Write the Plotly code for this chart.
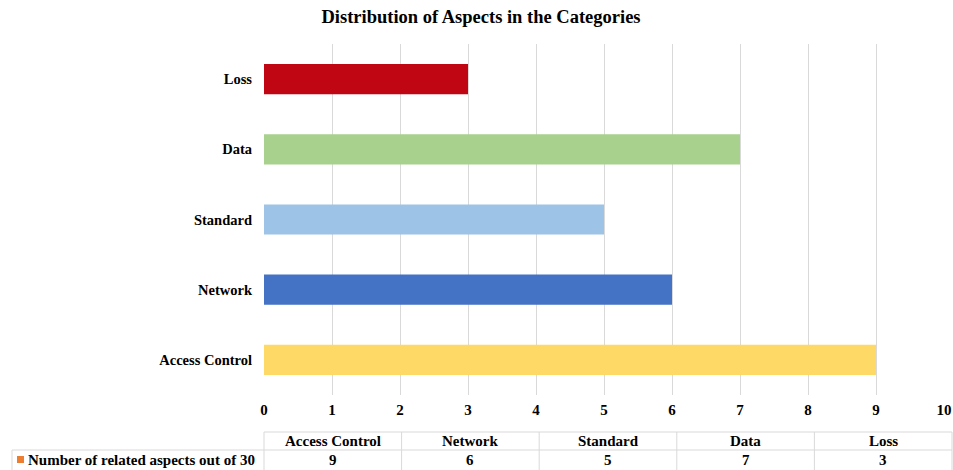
import plotly.graph_objects as go

categories = ["Access Control", "Network", "Standard", "Data", "Loss"]
values = [9, 6, 5, 7, 3]
colors = ["#FFD966", "#4472C4", "#9DC3E6", "#A9D18E", "#C00613"]
series_name = "Number of related aspects out of 30"
x_ticks = list(range(0, 11))

W, H = 953, 470
L, R, T, B = 264, 9, 44, 470 - 395
pw, ph = W - L - R, H - T - B

def px(x):
    return (x - L) / pw

def py(y):
    return (H - B - y) / ph

FONT = "Liberation Serif"

fig = go.Figure(go.Bar(
    y=categories, x=values, orientation="h",
    marker=dict(color=colors, line=dict(width=0)),
    width=0.43, hoverinfo="skip",
))

fig.update_layout(
    width=W, height=H,
    margin=dict(l=L, r=R, t=T, b=B, autoexpand=False),
    plot_bgcolor="white", paper_bgcolor="white",
    showlegend=False,
    font=dict(family=FONT, size=14, color="black"),
    title=dict(text="<b>Distribution of Aspects in the Categories</b>",
               x=481 / W, xanchor="center", y=1 - 17 / H, yanchor="middle",
               font=dict(family=FONT, size=18.5, color="black")),
    xaxis=dict(range=[0, 10], tickvals=x_ticks,
               ticktext=[f"<b>{v}</b>" for v in x_ticks],
               showgrid=True, gridcolor="#D9D9D9", gridwidth=1,
               zeroline=False, showline=False, ticks="",
               ticklabelstandoff=4, automargin=False,
               tickfont=dict(family=FONT, size=15)),
    yaxis=dict(categoryorder="array", categoryarray=categories,
               tickvals=categories, ticktext=[f"<b>{c}</b>" for c in categories],
               range=[-0.5, 4.5], showgrid=False, zeroline=False, showline=False,
               ticks="", ticklabelstandoff=11, automargin=False,
               tickfont=dict(family=FONT, size=14.5)),
)

# data table below the chart (pixel coordinates converted to paper)
line = dict(color="#D9D9D9", width=1)
x_plot_left = 264
x_left, x_right = 12, 952
y_top, y_mid, y_bot = 432, 450, 470
ncol = len(categories)
col_w = (x_right - x_plot_left) / ncol
shapes = []
shapes.append(dict(type="line", xref="paper", yref="paper",
                   x0=px(x_plot_left), x1=px(x_right), y0=py(y_top), y1=py(y_top), line=line))
shapes.append(dict(type="line", xref="paper", yref="paper",
                   x0=px(x_left), x1=px(x_right), y0=py(y_mid), y1=py(y_mid), line=line))
shapes.append(dict(type="line", xref="paper", yref="paper",
                   x0=px(x_left), x1=px(x_left), y0=py(y_mid), y1=py(y_bot), line=line))
for i in range(ncol + 1):
    xx = x_plot_left + i * col_w
    shapes.append(dict(type="line", xref="paper", yref="paper",
                       x0=px(xx), x1=px(xx), y0=py(y_top), y1=py(y_bot), line=line))
# legend key
shapes.append(dict(type="rect", xref="paper", yref="paper",
                   x0=px(17), x1=px(24), y0=py(456), y1=py(463),
                   fillcolor="#ED7D31", line=dict(width=0)))

annotations = []
for i, (c, v) in enumerate(zip(categories, values)):
    cx = x_plot_left + (i + 0.5) * col_w
    annotations.append(dict(x=px(cx), y=py(441), xref="paper", yref="paper",
                            text=f"<b>{c}</b>", showarrow=False,
                            xanchor="center", yanchor="middle",
                            font=dict(family=FONT, size=15)))
    annotations.append(dict(x=px(cx), y=py(460), xref="paper", yref="paper",
                            text=f"<b>{v}</b>", showarrow=False,
                            xanchor="center", yanchor="middle",
                            font=dict(family=FONT, size=15)))
annotations.append(dict(x=px(26), y=py(460), xref="paper", yref="paper",
                        text=f"<b>{series_name}</b>", showarrow=False,
                        xanchor="left", yanchor="middle",
                        font=dict(family=FONT, size=15)))

fig.update_layout(shapes=shapes, annotations=annotations)
fig.write_html(
    "out.html",
    config={"displayModeBar": False},
    post_script=(
        "document.documentElement.style.margin='0';"
        "document.documentElement.style.overflow='hidden';"
        "document.body.style.margin='0';"
        "document.body.style.overflow='hidden';"
    ),
)
